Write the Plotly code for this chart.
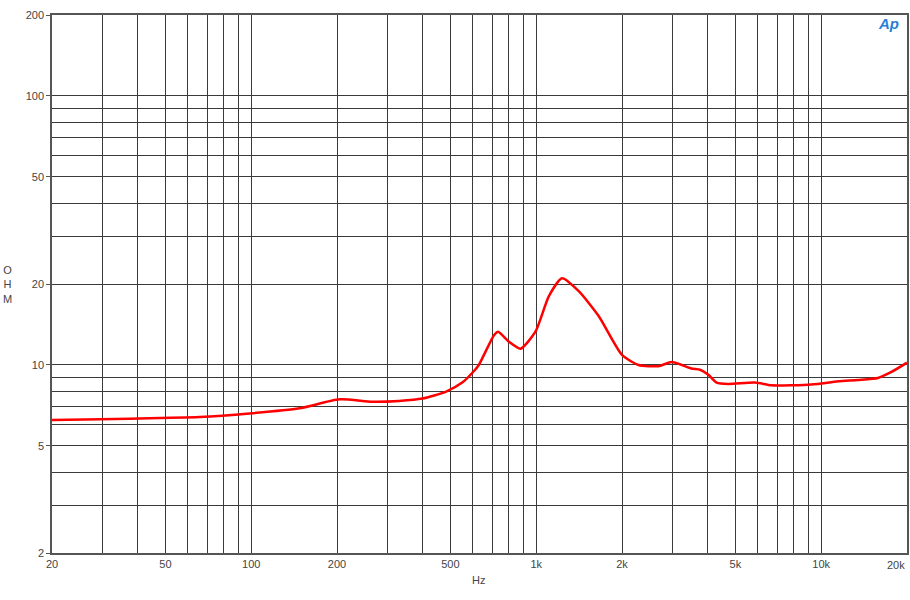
import plotly.graph_objects as go

freq_hz = [20, 29.5, 47.8, 66, 98.6, 147.6, 204, 266, 330, 399, 481, 550, 605, 629,
           711, 735, 802, 881, 994, 1107, 1232, 1410, 1656, 2000, 2286, 2687, 2990, 3504,
           3758, 4019, 4297, 4723, 5857, 6678, 7845, 8999, 9756, 11460, 13460, 15820, 17570, 20000]
impedance_ohm = [6.24, 6.28, 6.35, 6.4, 6.6, 6.9, 7.45, 7.3, 7.35, 7.5, 7.95, 8.6, 9.5, 10.0,
                 12.9, 13.3, 12.2, 11.5, 13.3, 18.0, 21.0, 18.8, 15.2, 10.9, 10.0, 9.9, 10.25, 9.7,
                 9.6, 9.2, 8.6, 8.5, 8.6, 8.4, 8.4, 8.45, 8.5, 8.7, 8.8, 8.95, 9.4, 10.2]

x_tick_vals = [20, 50, 100, 200, 500, 1000, 2000, 5000, 10000]
x_tick_text = ["20", "50", "100", "200", "500", "1k", "2k", "5k", "10k"]
x_last_label = "20k"
y_tick_vals = [2, 5, 10, 20, 50, 100, 200]
y_tick_text = ["2", "5", "10", "20", "50", "100", "200"]

x_grid = [m * 10 ** e for e in (1, 2, 3, 4) for m in range(1, 10) if 20 <= m * 10 ** e <= 20000]
y_grid = [m * 10 ** e for e in (0, 1, 2) for m in range(1, 10) if 2 <= m * 10 ** e <= 200]

fig = go.Figure()
fig.add_trace(go.Scatter(x=freq_hz, y=impedance_ohm, mode="lines",
                         line=dict(color="#ff0000", width=2.5, shape="spline", smoothing=0.6),
                         showlegend=False, hoverinfo="skip"))

grid_col = "#3a3a3a"
font = dict(family="Liberation Sans, Arial, sans-serif", size=11, color="#444444")

fig.update_layout(
    width=910, height=600,
    margin=dict(l=52, r=1, t=15, b=47),
    paper_bgcolor="white", plot_bgcolor="white",
    font=font,
    xaxis=dict(type="log", range=[1.30103, 4.30103],
               tickvals=x_tick_vals, ticktext=x_tick_text,
               showgrid=True, gridcolor=grid_col, gridwidth=1,
               ticks="", showline=True, linecolor="#555555", linewidth=1.5, mirror=True,
               zeroline=False, tickfont=font,
               minor=dict(tickvals=x_grid, showgrid=True, gridcolor=grid_col, gridwidth=1, ticks="")),
    yaxis=dict(type="log", range=[0.30103, 2.30103],
               tickvals=y_tick_vals, ticktext=y_tick_text,
               showgrid=True, gridcolor=grid_col, gridwidth=1,
               ticks="outside", ticklen=4, tickcolor="#555555",
               showline=True, linecolor="#555555", linewidth=1.5, mirror=True,
               zeroline=False, tickfont=font,
               minor=dict(tickvals=y_grid, showgrid=True, gridcolor=grid_col, gridwidth=1, ticks="")),
    annotations=[
        dict(text="O<br>H<br>M", xref="paper", yref="paper", x=-0.052, y=0.5, xanchor="center",
             yanchor="middle", showarrow=False, font=font, align="center"),
        dict(text="Hz", xref="paper", yref="paper", x=0.499, y=-0.035, xanchor="center",
             yanchor="top", showarrow=False, font=font),
        dict(text=x_last_label, xref="paper", yref="paper", x=1.0, y=-0.008, xanchor="right",
             yanchor="top", showarrow=False, font=font),
        dict(text="<i><b>Ap</b></i>", xref="paper", yref="paper", x=0.978, y=0.985,
             xanchor="center", yanchor="middle", showarrow=False,
             font=dict(family="Liberation Sans, Arial, sans-serif", size=15, color="#2a7fd4")),
    ],
)

fig.write_html("out.html", config={"displayModeBar": False},
               post_script="document.body.style.margin='0';document.body.style.overflow='hidden';")
